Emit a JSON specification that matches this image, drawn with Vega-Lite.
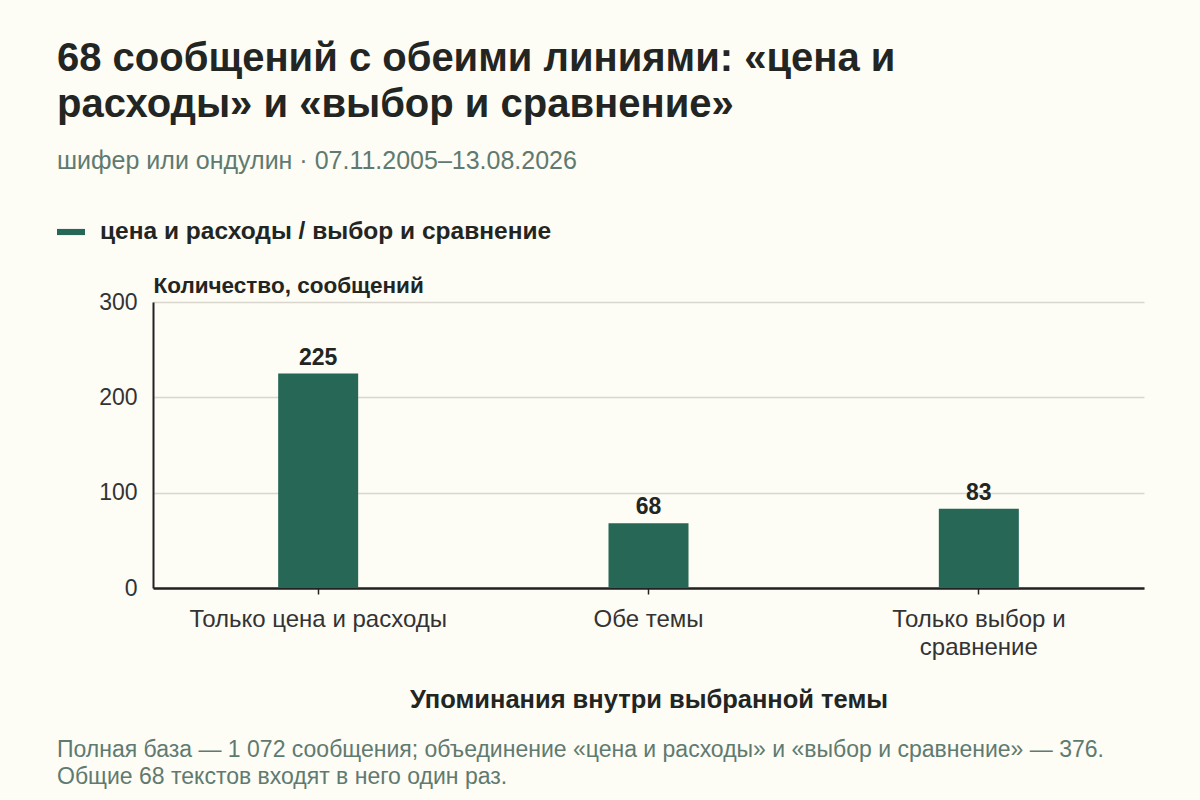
{
  "$schema": "https://vega.github.io/schema/vega-lite/v6.json",
  "background": "#fdfcf5",
  "padding": {"left": 57, "top": 39, "right": 56, "bottom": 10},
  "title": {
    "text": ["68 сообщений с обеими линиями: «цена и", "расходы» и «выбор и сравнение»"],
    "subtitle": "шифер или ондулин · 07.11.2005–13.08.2026",
    "anchor": "start",
    "font": "Liberation Sans",
    "fontSize": 40,
    "fontWeight": "bold",
    "color": "#222522",
    "lineHeight": 46,
    "subtitleFont": "Liberation Sans",
    "subtitleFontSize": 25,
    "subtitleColor": "#5f7a70",
    "subtitlePadding": 24,
    "offset": 44
  },
  "spacing": 0,
  "vconcat": [
    {
      "width": 991,
      "height": 286,
      "title": {
        "text": [
          "Полная база — 1 072 сообщения; объединение «цена и расходы» и «выбор и сравнение» — 376.",
          "Общие 68 текстов входят в него один раз."
        ],
        "orient": "bottom",
        "anchor": "start",
        "frame": "group",
        "dx": -96,
        "font": "Liberation Sans",
        "fontSize": 23,
        "fontWeight": "normal",
        "color": "#5f7a70",
        "lineHeight": 27,
        "offset": 26
      },
      "data": {
        "values": [
          {"group": "Только цена и расходы", "count": 225, "series": "цена и расходы / выбор и сравнение"},
          {"group": "Обе темы", "count": 68, "series": "цена и расходы / выбор и сравнение"},
          {"group": "Только выбор и сравнение", "count": 83, "series": "цена и расходы / выбор и сравнение"}
        ]
      },
      "encoding": {
        "x": {
          "field": "group",
          "type": "nominal",
          "sort": null,
          "scale": {"type": "band", "paddingInner": 0, "paddingOuter": 0},
          "title": "Упоминания внутри выбранной темы",
          "axis": {
            "labelAngle": 0,
            "labelFont": "Liberation Sans",
            "labelFontSize": 24,
            "labelColor": "#333333",
            "labelPadding": 13,
            "labelLineHeight": 28,
            "labelExpr": "datum.value == 'Только выбор и сравнение' ? ['Только выбор и', 'сравнение'] : datum.value",
            "ticks": true,
            "tickSize": 6,
            "tickColor": "#222222",
            "tickWidth": 1.5,
            "domainColor": "#222222",
            "domainWidth": 2.5,
            "titleFont": "Liberation Sans",
            "titleFontSize": 25.5,
            "titleFontWeight": "bold",
            "titleColor": "#222522",
            "titlePadding": 28
          }
        },
        "y": {
          "field": "count",
          "type": "quantitative",
          "scale": {"domain": [0, 300]},
          "title": "Количество, сообщений",
          "axis": {
            "values": [0, 100, 200, 300],
            "ticks": false,
            "labelFont": "Liberation Sans",
            "labelFontSize": 23,
            "labelColor": "#333333",
            "labelPadding": 16,
            "domainColor": "#222222",
            "domainWidth": 2,
            "gridColor": "#d9d6ce",
            "gridWidth": 1.5,
            "titleAngle": 0,
            "titleAlign": "left",
            "titleBaseline": "alphabetic",
            "titleX": 0,
            "titleY": -10,
            "titleFont": "Liberation Sans",
            "titleFontSize": 22.5,
            "titleFontWeight": "bold",
            "titleColor": "#222522"
          }
        }
      },
      "layer": [
        {
          "mark": {"type": "bar", "size": 80},
          "encoding": {
            "color": {
              "field": "series",
              "type": "nominal",
              "scale": {"range": ["#276756"]},
              "legend": {
                "title": null,
                "orient": "none",
                "legendX": -96,
                "legendY": -84,
                "symbolType": "M-1,-0.22H1V0.22H-1Z",
                "symbolSize": 784,
                "symbolStrokeWidth": 0,
                "labelOffset": 15,
                "labelFont": "Liberation Sans",
                "labelFontSize": 24.5,
                "labelFontWeight": "bold",
                "labelColor": "#222522",
                "labelLimit": 0
              }
            }
          }
        },
        {
          "mark": {
            "type": "text",
            "dy": -9,
            "baseline": "alphabetic",
            "font": "Liberation Sans",
            "fontSize": 23,
            "fontWeight": "bold",
            "color": "#222522"
          },
          "encoding": {"text": {"field": "count", "type": "quantitative"}}
        }
      ]
    }
  ],
  "config": {
    "view": {"stroke": null},
    "axis": {"labelLimit": 0}
  }
}
